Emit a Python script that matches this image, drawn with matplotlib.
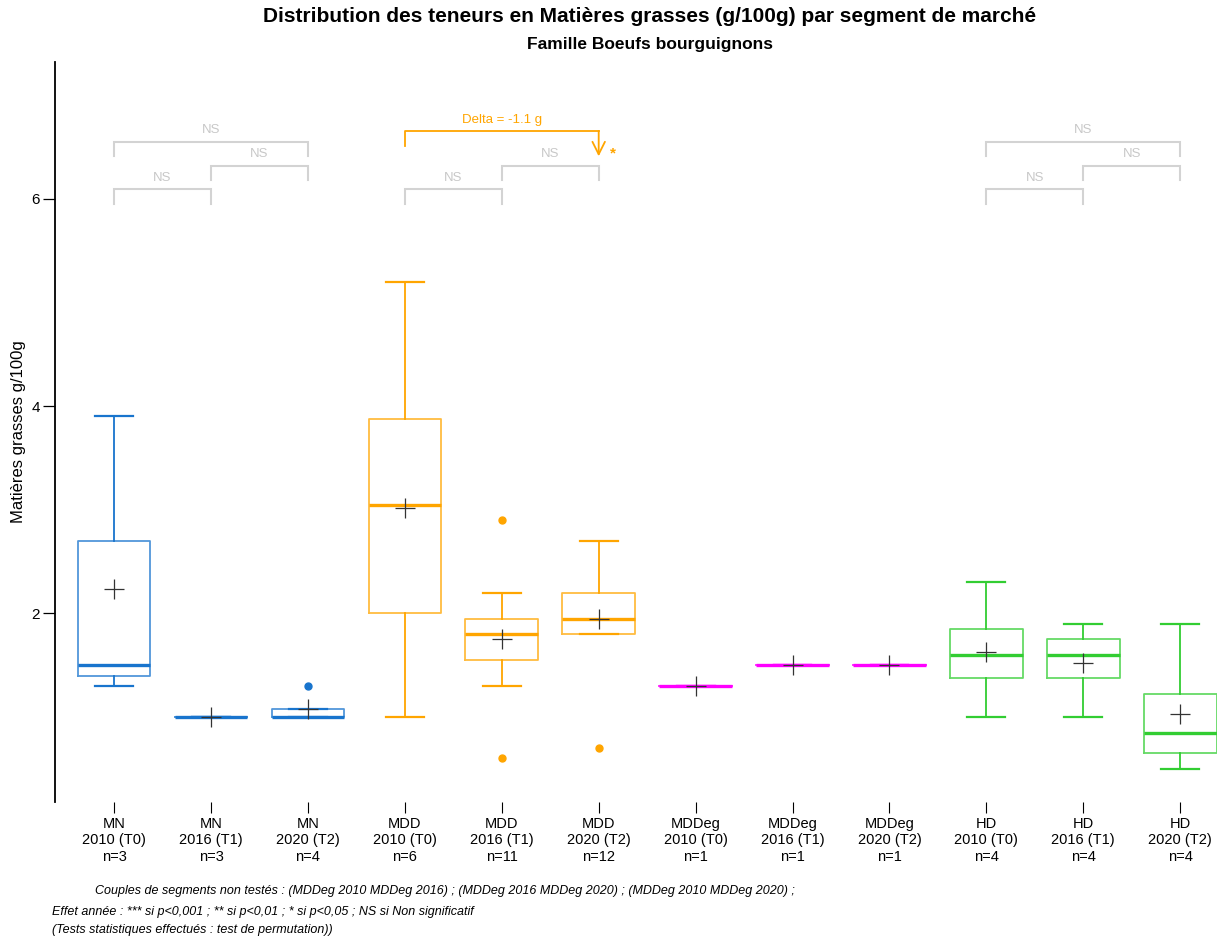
import numpy as np
import matplotlib.pyplot as plt

plt.rcParams['font.family'] = ['Liberation Sans', 'DejaVu Sans']

# Données (valeurs individuelles reconstituées)
segments = ['MN', 'MN', 'MN', 'MDD', 'MDD', 'MDD',
            'MDDeg', 'MDDeg', 'MDDeg', 'HD', 'HD', 'HD']
annees = ['2010 (T0)', '2016 (T1)', '2020 (T2)'] * 4
valeurs = [
    [1.3, 1.5, 3.9],
    [1.0, 1.0, 1.0],
    [1.0, 1.0, 1.0, 1.3],
    [1.0, 1.9, 2.3, 3.8, 3.9, 5.2],
    [0.6, 1.3, 1.5, 1.6, 1.7, 1.8, 1.8, 1.9, 2.0, 2.2, 2.9],
    [0.7, 1.8, 1.8, 1.8, 1.8, 1.9, 2.0, 2.1, 2.2, 2.2, 2.4, 2.7],
    [1.3],
    [1.5],
    [1.5],
    [1.0, 1.5, 1.7, 2.3],
    [1.0, 1.5, 1.7, 1.9],
    [0.5, 0.7, 1.0, 1.9],
]
couleurs_segment = {'MN': '#1874CD', 'MDD': '#FFA500',
                    'MDDeg': '#FF00FF', 'HD': '#32CD32'}

# comparaisons (indices de boîtes, 1-based) et leur résultat
comparaisons = [(1, 2, 'NS'), (2, 3, 'NS'), (1, 3, 'NS'),
                (4, 5, 'NS'), (5, 6, 'NS'),
                (10, 11, 'NS'), (11, 12, 'NS'), (10, 12, 'NS')]
delta_mdd = -1.1

notes = [
    "Couples de segments non testés : (MDDeg 2010 MDDeg 2016) ; (MDDeg 2016 MDDeg 2020) ; (MDDeg 2010 MDDeg 2020) ;",
    "Effet année : *** si p<0,001 ; ** si p<0,01 ; * si p<0,05 ; NS si Non significatif",
    "(Tests statistiques effectués : test de permutation))",
]

fig = plt.figure(figsize=(12.17, 9.41), dpi=100)
ax = fig.add_axes([55 / 1217, 139 / 941, 1162 / 1217, 740 / 941])

positions = np.arange(1, len(valeurs) + 1)
bp = ax.boxplot(valeurs, positions=positions, widths=0.75, capwidths=0.39,
                showmeans=True, patch_artist=False)

for i, seg in enumerate(segments):
    c = couleurs_segment[seg]
    bp['boxes'][i].set(color=c, linewidth=1.3, alpha=0.75)
    bp['medians'][i].set(color=c, linewidth=2.4, solid_capstyle='butt')
    for k in (2 * i, 2 * i + 1):
        bp['whiskers'][k].set(color=c, linewidth=1.3)
        bp['caps'][k].set(color=c, linewidth=1.6)
    bp['fliers'][i].set(marker='o', markerfacecolor=c, markeredgecolor=c,
                        markersize=5)
    bp['means'][i].set(marker='+', markeredgecolor='#333333',
                       markersize=15, markeredgewidth=0.9)

# crochets de significativité
gris = '#D3D3D3'
for a, b, lab in comparaisons:
    if b - a == 2:
        h = 6.55
    elif (a - 1) % 3 == 0:
        h = 6.09
    else:
        h = 6.32
    ax.plot([a, a, b, b], [h - 0.14, h, h, h - 0.14], color=gris, lw=1.5,
            solid_joinstyle='miter')
    ax.text((a + b) / 2, h + 0.11, lab, color='#C8C8C8', fontsize=9.5,
            ha='center', va='center')

orange = couleurs_segment['MDD']
ax.plot([4, 4, 6], [6.51, 6.65, 6.65], color=orange, lw=1.3)
ax.annotate('', xy=(6, 6.41), xytext=(6, 6.655),
            arrowprops=dict(arrowstyle='->,head_length=0.9,head_width=0.45',
                            color=orange, lw=1.3, shrinkA=0, shrinkB=0,
                            mutation_scale=10))
ax.text(5, 6.76, f'Delta = {delta_mdd:.1f} g', color=orange, fontsize=9.5,
        ha='center', va='center')
ax.text(6.15, 6.44, '*', color=orange, fontsize=11, fontweight='bold',
        ha='center', va='center')

ax.set_xlim(0.39, 12.38)
ax.set_ylim(0.18, 7.32)
ax.set_yticks([2, 4, 6])
ax.set_xticks(positions)
ax.set_xticklabels([f'{s}\n{a}\nn={len(v)}' for s, a, v in zip(segments, annees, valeurs)],
                   fontsize=10.5, linespacing=1.2)
ax.tick_params(axis='x', length=8, width=0.8, pad=3)
ax.tick_params(axis='y', length=9, width=0.9, labelsize=11, pad=2)
for s in ('top', 'right', 'bottom'):
    ax.spines[s].set_visible(False)
ax.spines['left'].set_linewidth(1.3)
ax.set_ylabel('Matières grasses g/100g', fontsize=12, labelpad=4)

fig.text(0.534, 0.982, 'Distribution des teneurs en Matières grasses (g/100g) par segment de marché',
         ha='center', va='center', fontsize=15, fontweight='bold')
fig.text(0.534, 0.953, 'Famille Boeufs bourguignons', ha='center', va='center',
         fontsize=12.5, fontweight='bold')

for txt, xp, yp in zip(notes, [95, 52, 52], [891, 912, 930]):
    fig.text(xp / 1217, 1 - yp / 941, txt, ha='left', va='center',
             fontsize=9, style='italic')

fig.savefig('out.png', dpi=100)
